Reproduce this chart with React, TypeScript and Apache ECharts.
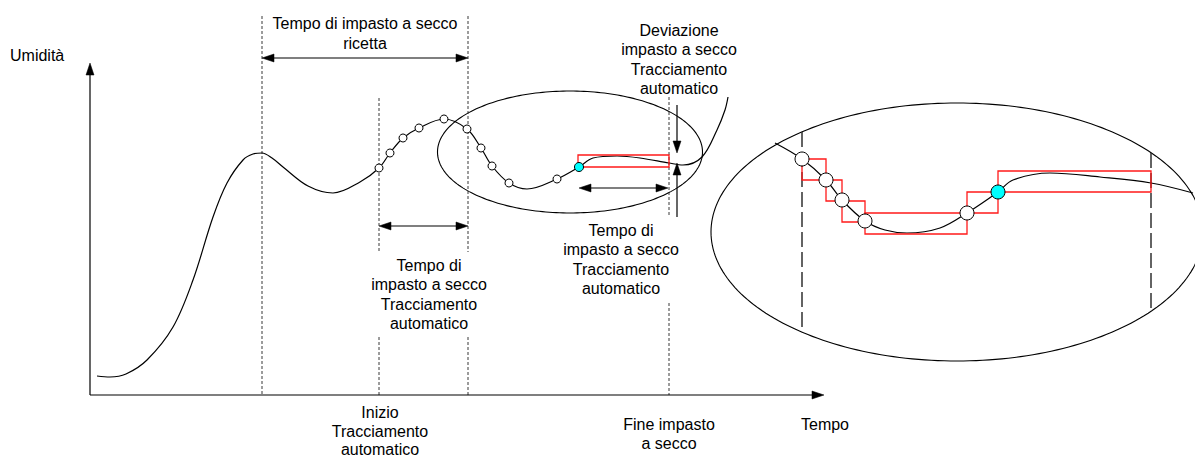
import React, { useEffect, useRef } from "react";
import * as echarts from "echarts";

// Diagram units (time on x, humidity on y, y grows downward in the sketch)
const mainCurve: number[][] = [
  [97, 376], [110, 377], [126, 374], [147, 360], [173, 327], [193, 280], [213, 217], [227, 183],
  [243, 160], [253, 154], [262, 153], [272, 158], [283, 167], [308, 186], [333, 193], [360, 182], [379, 168],
  [390, 153], [403, 138], [419, 128], [444, 119], [467, 129], [481, 148], [492, 166],
  [509, 183], [527, 189], [557, 179], [579, 167], [593, 158], [617, 156], [640, 158],
  [669, 163], [683, 165], [702, 157], [717, 130], [725, 110], [728, 97],
];
const mainSamples: number[][] = [
  [379, 168], [390, 153], [403, 138], [419, 128], [444, 119], [467, 129],
  [481, 148], [492, 166], [509, 183], [557, 179],
];
const mainCurrent: number[][] = [[579, 167]];

const insetCurve: number[][] = [
  [775, 143], [802, 159], [826, 180], [842, 200], [865, 221], [885, 230], [907, 233],
  [940, 228], [967, 213], [998, 192], [1013, 180], [1050, 173], [1100, 177],
  [1151, 183], [1193, 193],
];
const insetSamples: number[][] = [[802, 159], [826, 180], [842, 200], [865, 221], [967, 213]];
const insetCurrent: number[][] = [[998, 192]];

// [x0, y0, x1, y1]
const stepBoxes: number[][] = [
  [802, 159, 826, 180], [826, 180, 842, 201], [842, 201, 865, 222],
  [865, 213, 967, 234], [967, 192, 998, 213], [998, 171, 1151, 192],
  [578, 155, 669, 167],
];

// [cx, cy, rx, ry]
const ellipses: number[][] = [[570, 152, 132.5, 61], [957, 232, 246, 129]];

// [x0, y0, x1, y1]
const guideLines: number[][] = [
  [262, 16, 262, 395], [468, 16, 468, 252], [468, 337, 468, 395],
  [379, 98, 379, 252], [379, 337, 379, 395], [669, 97, 669, 215], [669, 303, 669, 395],
];
const insetGuides: number[][] = [[802, 132, 802, 331], [1151, 153, 1151, 312]];

// [x0, y0, x1, y1, headAtStart, headAtEnd]
const arrows: number[][] = [
  [90, 395, 90, 63, 0, 1],
  [90, 395, 824, 395, 0, 1],
  [262, 58, 468, 58, 1, 1],
  [379, 226, 468, 226, 1, 1],
  [579, 188, 668, 188, 1, 1],
  [677, 105, 677, 153, 0, 1],
  [677, 217, 677, 163, 0, 1],
];

const labels = [
  { text: "Umidità", x: 10, y: 55, align: "left", lh: 19.5 },
  { text: "Tempo di impasto a secco\nricetta", x: 365, y: 33.5, align: "center", lh: 19.5 },
  { text: "Deviazione\nimpasto a secco\nTracciamento\nautomatico", x: 679, y: 59.5, align: "center", lh: 19.5 },
  { text: "Tempo di\nimpasto a secco\nTracciamento\nautomatico", x: 429, y: 294.5, align: "center", lh: 19.5 },
  { text: "Tempo di\nimpasto a secco\nTracciamento\nautomatico", x: 621, y: 259.5, align: "center", lh: 19.5 },
  { text: "Inizio\nTracciamento\nautomatico", x: 380, y: 431, align: "center", lh: 18.5 },
  { text: "Fine impasto\na secco", x: 669, y: 434, align: "center", lh: 19.5 },
  { text: "Tempo", x: 825, y: 424, align: "center", lh: 19.5 },
];

const FONT = '"Liberation Sans", Arial, sans-serif';

function segmentSeries(data: number[][], dash: number[], width: number, color: string, z: number) {
  return {
    type: "custom",
    z,
    clip: false,
    silent: true,
    data,
    encode: { x: [0, 2], y: [1, 3] },
    renderItem: (_p: any, api: any) => {
      const a = api.coord([api.value(0), api.value(1)]);
      const b = api.coord([api.value(2), api.value(3)]);
      return {
        type: "line",
        shape: { x1: a[0], y1: a[1], x2: b[0], y2: b[1] },
        style: { stroke: color, lineWidth: width, lineDash: dash, fill: null },
      };
    },
  };
}

function head(tip: number[], from: number[], len: number, hw: number) {
  const dx = tip[0] - from[0];
  const dy = tip[1] - from[1];
  const l = Math.hypot(dx, dy) || 1;
  const ux = dx / l, uy = dy / l;
  const bx = tip[0] - ux * len, by = tip[1] - uy * len;
  return {
    base: [bx, by],
    poly: {
      type: "polygon",
      shape: { points: [tip, [bx - uy * hw, by + ux * hw], [bx + uy * hw, by - ux * hw]] },
      style: { fill: "#000", stroke: "#000", lineWidth: 0.5 },
    },
  };
}

export default function App() {
  const ref = useRef<HTMLDivElement>(null);
  useEffect(() => {
    if (!ref.current) return;
    const chart = echarts.init(ref.current, undefined, { renderer: "svg" });
    const scatterStyle = (color: string) => ({ color, borderColor: "#000", borderWidth: 1, opacity: 1 });
    chart.setOption({
      animation: false,
      grid: { left: 0, right: 0, top: 0, bottom: 0 },
      xAxis: { type: "value", min: 0, max: 1195, show: false },
      yAxis: { type: "value", min: 0, max: 459, inverse: true, show: false },
      series: [
        {
          type: "custom",
          z: 1,
          clip: false,
          silent: true,
          data: ellipses,
          encode: { x: 0, y: 1 },
          renderItem: (_p: any, api: any) => {
            const c = api.coord([api.value(0), api.value(1)]);
            const s = api.size([api.value(2), api.value(3)]);
            const rx = Math.abs(s[0]), ry = Math.abs(s[1]);
            const pts: number[][] = [];
            for (let i = 0; i < 240; i++) {
              const t = (i / 240) * Math.PI * 2;
              pts.push([c[0] + rx * Math.cos(t), c[1] + ry * Math.sin(t)]);
            }
            return {
              type: "polygon",
              shape: { points: pts },
              style: { fill: "none", stroke: "#000", lineWidth: 1.1 },
            };
          },
        },
        segmentSeries(guideLines, [3, 2], 0.9, "#222", 2),
        segmentSeries(insetGuides, [15, 5], 1.4, "#222", 2),
        {
          type: "custom",
          z: 3,
          clip: false,
          silent: true,
          data: arrows,
          encode: { x: [0, 2], y: [1, 3] },
          renderItem: (_p: any, api: any) => {
            let a = api.coord([api.value(0), api.value(1)]);
            let b = api.coord([api.value(2), api.value(3)]);
            const children: any[] = [];
            const a0 = a, b0 = b;
            if (api.value(4)) {
              const h = head(a0, b0, 12, 4);
              children.push(h.poly);
              a = h.base;
            }
            if (api.value(5)) {
              const h = head(b0, a0, 12, 4);
              children.push(h.poly);
              b = h.base;
            }
            children.unshift({
              type: "line",
              shape: { x1: a[0], y1: a[1], x2: b[0], y2: b[1] },
              style: { stroke: "#000", lineWidth: 1.2 },
            });
            return { type: "group", children };
          },
        },
        {
          type: "line",
          z: 4,
          data: mainCurve,
          smooth: 0.35,
          showSymbol: false,
          silent: true,
          lineStyle: { color: "#000", width: 1.2 },
        },
        {
          type: "line",
          z: 4,
          data: insetCurve,
          smooth: 0.35,
          showSymbol: false,
          silent: true,
          lineStyle: { color: "#000", width: 1.2 },
        },
        {
          type: "custom",
          z: 5,
          clip: false,
          silent: true,
          data: stepBoxes,
          encode: { x: [0, 2], y: [1, 3] },
          renderItem: (_p: any, api: any) => {
            const a = api.coord([api.value(0), api.value(1)]);
            const b = api.coord([api.value(2), api.value(3)]);
            return {
              type: "rect",
              shape: {
                x: Math.min(a[0], b[0]),
                y: Math.min(a[1], b[1]),
                width: Math.abs(b[0] - a[0]),
                height: Math.abs(b[1] - a[1]),
              },
              style: { fill: "none", stroke: "#ff1a1a", lineWidth: 1.3 },
            };
          },
        },
        {
          type: "scatter",
          z: 6,
          data: mainSamples,
          symbolSize: 8,
          silent: true,
          itemStyle: scatterStyle("#fff"),
        },
        {
          type: "scatter",
          z: 6,
          data: mainCurrent,
          symbolSize: 9,
          silent: true,
          itemStyle: scatterStyle("#00ffff"),
        },
        {
          type: "scatter",
          z: 6,
          data: insetSamples,
          symbolSize: 14,
          silent: true,
          itemStyle: scatterStyle("#fff"),
        },
        {
          type: "scatter",
          z: 6,
          data: insetCurrent,
          symbolSize: 14,
          silent: true,
          itemStyle: scatterStyle("#00ffff"),
        },
      ],
      graphic: labels.map((l) => ({
        type: "text",
        x: l.x,
        y: l.y,
        z: 10,
        style: {
          text: l.text,
          fill: "#000",
          fontSize: 16,
          fontFamily: FONT,
          align: l.align,
          verticalAlign: "middle",
          lineHeight: l.lh,
        },
      })),
    });
    return () => chart.dispose();
  }, []);
  return (
    <div
      ref={ref}
      style={{ position: "absolute", left: 0, top: 0, width: 1195, height: 459, background: "#fff" }}
    />
  );
}
